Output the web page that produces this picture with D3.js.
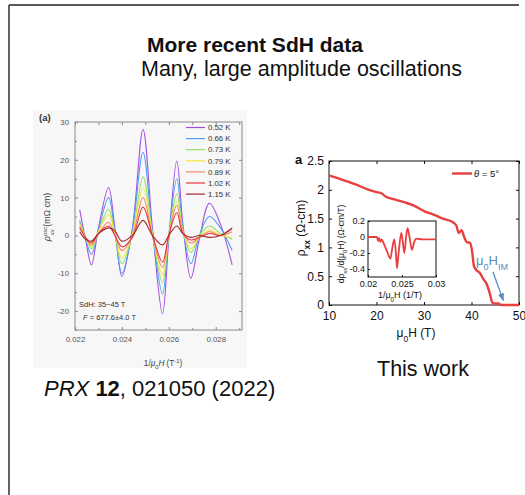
<!DOCTYPE html>
<html>
<head>
<meta charset="utf-8">
<script src="https://cdn.jsdelivr.net/npm/d3@7"></script>
<style>
  body { margin: 0; background: #fff; }
  svg { display: block; font-family: "Liberation Sans", Arial, sans-serif; }
</style>
</head>
<body>
<div id="chart"></div>
<script>
/** Left panel data: SdH oscillations vs 1/mu0H */
const oscInvField = [0.0222, 0.02245, 0.0227, 0.0230, 0.02343, 0.0237, 0.0240, 0.02445, 0.0249, 0.0253,
  0.02573, 0.0260, 0.02634, 0.0266, 0.02694, 0.0273, 0.02773, 0.0282, 0.0287];
const tempLabels = ["0.52 K", "0.66 K", "0.73 K", "0.79 K", "0.89 K", "1.02 K", "1.15 K"];
const osc052 = [6.8, -1, -7.8, 2, 12.7, 2, -10.8, 2, 28, 2, -20.7, -1, 19.7, 3, -11.3, -1, 8.5, 3, -7.8];
const osc066 = [4, -1, -5, 1.5, 10, 1, -10, 1.5, 22, 1, -15.5, 0, 15, 2, -7.5, 0, 5, 2, -4];
const osc073 = [3.5, -0.5, -3.5, 1, 7, 0.5, -7.5, 0.5, 15.5, 0.5, -12.5, 0, 11, 1.5, -4.5, 0, 2.5, 0.5, -1];
const osc079 = [3, -0.5, -3, 1, 5.5, 0.5, -6, 0.5, 12.5, 0.5, -10.5, 0, 9, 1, -3.5, -0.5, 1.5, 0, -0.5];
const osc089 = [2.5, -0.5, -2.5, 0.5, 3.5, 0, -4, 0, 10, 0, -8.5, 0, 8, 1, -2, -0.5, 1, 0, 1];
const osc102 = [2, -0.5, -2, 0.5, 2.5, 0, -3, -0.5, 7.5, 0, -7, 0, 6, 0.5, -1.2, -0.5, 0.5, 0, 1.8];
const osc115 = [1, -1, -1.5, 0.5, 2, 1.2, -1.5, 0, 4, 0, -2.5, 0, 2.5, 0.5, -0.5, 0, -0.5, 0, 2];
const oscSeries = [osc052, osc066, osc073, osc079, osc089, osc102, osc115];
const leftXTicks = [0.022, 0.024, 0.026, 0.028];
const leftYTicks = [-20, -10, 0, 10, 20, 30];

/** Right panel data: rho_xx vs mu0H */
const rhoField = [10, 12, 14, 16, 18, 20, 21, 22, 24, 26, 28, 30, 32, 34, 36, 36.8, 37.3, 37.9, 38.5, 39,
  39.7, 40.1, 40.5, 41.1, 41.8, 42.5, 43.1, 43.8, 44.4, 44.8, 45.7, 46.1, 47, 50];
const rhoValues = [2.25, 2.2, 2.14, 2.08, 2.01, 1.96, 1.94, 1.88, 1.83, 1.78, 1.72, 1.63, 1.57, 1.5, 1.44,
  1.38, 1.25, 1.3, 1.17, 1.09, 1.08, 0.95, 0.68, 0.6, 0.55, 0.45, 0.38, 0.22, 0.04, 0.025, 0.025, 0.005, 0, 0];
const rightXTicks = [10, 20, 30, 40, 50];
const rightYTicks = [0, 0.5, 1, 1.5, 2, 2.5];

/** Inset data: d rho / d(mu0H) vs 1/mu0H */
const insetInvField = [0.0200, 0.0213, 0.0215, 0.02165, 0.0218, 0.0220, 0.0223, 0.0228, 0.0233, 0.0236,
  0.02387, 0.0241, 0.02426, 0.0245, 0.0249, 0.0251, 0.02534, 0.0256, 0.02582, 0.0261, 0.02647, 0.0268,
  0.0271, 0.0280, 0.0300];
const insetDeriv = [0, 0, -0.05, -0.01, -0.06, -0.03, -0.08, -0.18, -0.27, -0.12, -0.03, -0.2, -0.39,
  -0.2, 0.05, -0.05, -0.2, 0, 0.11, 0, -0.16, -0.06, -0.02, -0.03, -0.03];
const insetXTicks = [0.02, 0.025, 0.03];
const insetYTicks = [-0.4, -0.2, 0, 0.2];

const W = 525, H = 495;

const svg = d3.select("#chart").append("svg").attr("width", W).attr("height", H);

/** helper for sub/superscripts */
const rich = (t, parts) => {
  parts.forEach((p) => {
    const ts = t.append("tspan").text(p.t);
    if (p.it) ts.style("font-style", "italic");
    if (p.b) ts.style("font-weight", "bold");
    if (p.dx) ts.attr("dx", p.dx);
    if (p.sub) ts.attr("baseline-shift", "sub").style("font-size", "70%");
    if (p.sup) ts.attr("baseline-shift", "super").style("font-size", "70%");
  });
  return t;
};

/** slide frame */
svg.append("line").attr("x1", 9).attr("x2", 519).attr("y1", 5).attr("y2", 5)
  .attr("stroke", "#222").attr("stroke-width", 1.4);
svg.append("line").attr("x1", 9).attr("x2", 9).attr("y1", 5).attr("y2", H)
  .attr("stroke", "#222").attr("stroke-width", 1.4);

/** titles */
svg.append("text").attr("x", 147).attr("y", 52).attr("font-size", 21).attr("font-weight", "bold")
  .attr("fill", "#111").text("More recent SdH data");
svg.append("text").attr("x", 141).attr("y", 76).attr("font-size", 21.5)
  .attr("fill", "#111").text("Many, large amplitude oscillations");

/* ---------------- left panel ---------------- */
svg.append("rect").attr("x", 33).attr("y", 110).attr("width", 214).attr("height", 258).attr("fill", "#f7f7f7");

const xL = d3.scaleLinear().domain([0.022, 0.02912]).range([75, 242]);
const yL = d3.scaleLinear().domain([-25, 30]).range([330, 122]);
const gL = svg.append("g");
const axisGray = "#8a8a8a";

const styleAxis = (g, color, fs, fill) => {
  g.select(".domain").remove();
  g.selectAll(".tick line").attr("stroke", color);
  g.selectAll(".tick text").attr("font-size", fs).attr("fill", fill).attr("font-family", "Liberation Sans, Arial, sans-serif");
};

gL.append("g").attr("transform", "translate(0,330)")
  .call(d3.axisBottom(xL).tickValues(leftXTicks).tickSize(-3).tickPadding(6).tickFormat(d3.format(".3f")))
  .call((g) => styleAxis(g, axisGray, 7.8, "#555"));
gL.append("g").attr("transform", "translate(0,330)")
  .call(d3.axisBottom(xL).tickValues([0.023, 0.025, 0.027, 0.029]).tickSize(-2).tickFormat(""))
  .call((g) => styleAxis(g, axisGray, 7.8, "#555"));
gL.append("g").attr("transform", "translate(0,122)")
  .call(d3.axisTop(xL).tickValues(d3.range(0.022, 0.0291, 0.001)).tickSize(-3).tickFormat(""))
  .call((g) => styleAxis(g, axisGray, 7.8, "#555"));
gL.append("g").attr("transform", "translate(75,0)")
  .call(d3.axisLeft(yL).tickValues(leftYTicks).tickSize(-3).tickPadding(6).tickFormat((d) => String(d)))
  .call((g) => styleAxis(g, axisGray, 7.8, "#555"));
gL.append("g").attr("transform", "translate(75,0)")
  .call(d3.axisLeft(yL).tickValues([-25, -15, -5, 5, 15, 25]).tickSize(-2).tickFormat(""))
  .call((g) => styleAxis(g, axisGray, 7.8, "#555"));
gL.append("g").attr("transform", "translate(242,0)")
  .call(d3.axisRight(yL).tickValues([-20, -10, 0, 10, 20]).tickSize(-3).tickFormat(""))
  .call((g) => styleAxis(g, axisGray, 7.8, "#555"));
gL.append("rect").attr("x", 75).attr("y", 122).attr("width", 167).attr("height", 208)
  .attr("fill", "none").attr("stroke", axisGray).attr("stroke-width", 1);

const tempColor = d3.scaleOrdinal().domain(tempLabels)
  .range(["#a24ee2", "#4f9ff0", "#93e064", "#f3e83c", "#f4876e", "#e6363b", "#a3272c"]);

const oscLine = d3.line().x((d) => xL(d[0])).y((d) => yL(d[1])).curve(d3.curveCatmullRom.alpha(0.5));
oscSeries.forEach((vals, i) => {
  gL.append("path")
    .datum(oscInvField.map((x, j) => [x, vals[j]]))
    .attr("d", oscLine)
    .attr("fill", "none")
    .attr("stroke", tempColor(tempLabels[i]))
    .attr("stroke-width", 1.1);
});

/** legend */
const legL = gL.append("g");
tempLabels.forEach((lab, i) => {
  const y = 127.5 + i * 11.1;
  legL.append("line").attr("x1", 186).attr("x2", 205).attr("y1", y).attr("y2", y)
    .attr("stroke", tempColor(lab)).attr("stroke-width", 1.2);
  legL.append("text").attr("x", 208).attr("y", y + 2.7).attr("font-size", 7.8).attr("fill", "#333").text(lab);
});

gL.append("text").attr("x", 39).attr("y", 121).attr("font-size", 9.5).attr("font-weight", "bold")
  .attr("fill", "#333").text("(a)");
gL.append("text").attr("x", 79).attr("y", 307).attr("font-size", 7.5).attr("fill", "#333").text("SdH: 35\u221245 T");
rich(gL.append("text").attr("x", 83).attr("y", 320).attr("font-size", 7.5).attr("fill", "#333"),
  [{ t: "F", it: true }, { t: " = 677.6\u00b14.0 T" }]);

rich(gL.append("text").attr("x", 163).attr("y", 366).attr("text-anchor", "middle")
  .attr("font-size", 8.2).attr("fill", "#444"),
  [{ t: "1/" }, { t: "\u03bc", it: true }, { t: "0", sub: true }, { t: "H", it: true }, { t: " (T" }, { t: "-1", sup: true }, { t: ")" }]);

rich(gL.append("text").attr("transform", "translate(50,217) rotate(-90)").attr("text-anchor", "middle")
  .attr("font-size", 8.8).attr("fill", "#444"),
  [{ t: "\u03c1", it: true }, { t: "osc", sup: true, it: true }, { t: "xx", sub: true, it: true, dx: -8.8 }, { t: " (m\u03a9 cm)" }]);

/* ---------------- right panel ---------------- */
const xR = d3.scaleLinear().domain([10, 50]).range([329, 519]);
const yR = d3.scaleLinear().domain([0, 2.5]).range([305, 161]);
const gR = svg.append("g");

gR.append("g").attr("transform", "translate(0,305)")
  .call(d3.axisBottom(xR).tickValues(rightXTicks).tickSize(-3).tickPadding(6).tickFormat((d) => String(d)))
  .call((g) => styleAxis(g, "#111", 12, "#111"));
gR.append("g").attr("transform", "translate(329,0)")
  .call(d3.axisLeft(yR).tickValues(rightYTicks).tickSize(-3).tickPadding(5).tickFormat((d) => String(d)))
  .call((g) => styleAxis(g, "#111", 12, "#111"));
gR.append("g").attr("transform", "translate(0,161)")
  .call(d3.axisTop(xR).tickValues(rightXTicks).tickSize(-3).tickFormat(""))
  .call((g) => styleAxis(g, "#111", 12, "#111"));
gR.append("g").attr("transform", "translate(519,0)")
  .call(d3.axisRight(yR).tickValues(rightYTicks).tickSize(-3).tickFormat(""))
  .call((g) => styleAxis(g, "#111", 12, "#111"));
gR.append("rect").attr("x", 329).attr("y", 161).attr("width", 190).attr("height", 144)
  .attr("fill", "none").attr("stroke", "#111").attr("stroke-width", 1);

const rhoLine = d3.line().x((d) => xR(d[0])).y((d) => yR(d[1])).curve(d3.curveMonotoneX);
gR.append("path")
  .datum(rhoField.map((h, i) => [h, rhoValues[i]]))
  .attr("d", rhoLine).attr("fill", "none").attr("stroke", "#e8403f").attr("stroke-width", 2.4);

/** legend */
gR.append("line").attr("x1", 452).attr("x2", 472).attr("y1", 173.5).attr("y2", 173.5)
  .attr("stroke", "#e8403f").attr("stroke-width", 2.4);
rich(gR.append("text").attr("x", 474).attr("y", 177).attr("font-size", 9.5).attr("fill", "#111"),
  [{ t: "\u03b8", it: true }, { t: " = 5\u00b0" }]);

gR.append("text").attr("x", 295).attr("y", 164).attr("font-size", 13).attr("font-weight", "bold")
  .attr("fill", "#111").text("a");

rich(gR.append("text").attr("x", 416).attr("y", 337).attr("text-anchor", "middle")
  .attr("font-size", 12).attr("fill", "#111"),
  [{ t: "\u03bc" }, { t: "0", sub: true }, { t: "H (T)" }]);
rich(gR.append("text").attr("transform", "translate(305,228) rotate(-90)").attr("text-anchor", "middle")
  .attr("font-size", 12).attr("fill", "#111"),
  [{ t: "\u03c1" }, { t: "xx", sub: true, b: true }, { t: " (\u03a9-cm)" }]);

/** mu0H_IM annotation */
rich(gR.append("text").attr("x", 476).attr("y", 265).attr("font-size", 13).attr("fill", "#5a8cc2"),
  [{ t: "\u03bc" }, { t: "0", sub: true }, { t: "H" }, { t: "IM", sub: true }]);
svg.append("defs").append("marker").attr("id", "arr").attr("viewBox", "0 0 10 10")
  .attr("refX", 9).attr("refY", 5).attr("markerWidth", 6).attr("markerHeight", 6).attr("orient", "auto")
  .append("path").attr("d", "M0,1 L10,5 L0,9 Z").attr("fill", "#5a8cc2");
gR.append("line").attr("x1", 493).attr("y1", 272).attr("x2", xR(46.7)).attr("y2", yR(0.08))
  .attr("stroke", "#5a8cc2").attr("stroke-width", 1.3).attr("marker-end", "url(#arr)");

/** inset */
const xI = d3.scaleLinear().domain([0.02, 0.03]).range([368, 436]);
const yI = d3.scaleLinear().domain([-0.5, 0.2]).range([277, 221]);
const gI = gR.append("g");
gI.append("rect").attr("x", 368).attr("y", 221).attr("width", 68).attr("height", 56).attr("fill", "#fff");
gI.append("g").attr("transform", "translate(0,277)")
  .call(d3.axisBottom(xI).tickValues(insetXTicks).tickSize(-2).tickPadding(4).tickFormat((d) => String(d)))
  .call((g) => styleAxis(g, "#111", 9, "#111"));
gI.append("g").attr("transform", "translate(368,0)")
  .call(d3.axisLeft(yI).tickValues(insetYTicks).tickSize(-2).tickPadding(3).tickFormat((d) => String(d)))
  .call((g) => styleAxis(g, "#111", 9, "#111"));
gI.append("rect").attr("x", 368).attr("y", 221).attr("width", 68).attr("height", 56)
  .attr("fill", "none").attr("stroke", "#111").attr("stroke-width", 1);
const insetLine = d3.line().x((d) => xI(d[0])).y((d) => yI(d[1])).curve(d3.curveMonotoneX);
gI.append("path")
  .datum(insetInvField.map((x, i) => [x, insetDeriv[i]]))
  .attr("d", insetLine).attr("fill", "none").attr("stroke", "#e8403f").attr("stroke-width", 1.8);
rich(gI.append("text").attr("x", 400).attr("y", 298).attr("text-anchor", "middle")
  .attr("font-size", 9).attr("fill", "#111"),
  [{ t: "1/" }, { t: "\u03bc" }, { t: "0", sub: true }, { t: "H (1/T)" }]);
rich(gI.append("text").attr("transform", "translate(344,244) rotate(-90)").attr("text-anchor", "middle")
  .attr("font-size", 8.5).attr("fill", "#111"),
  [{ t: "d\u03c1" }, { t: "xx", sub: true }, { t: "/d(\u03bc" }, { t: "0", sub: true }, { t: "H) (\u03a9-cm/T)" }]);

/** captions */
svg.append("text").attr("x", 423).attr("y", 376).attr("text-anchor", "middle").attr("font-size", 21.5)
  .attr("fill", "#111").text("This work");
rich(svg.append("text").attr("x", 44).attr("y", 396).attr("font-size", 22).attr("fill", "#111"),
  [{ t: "PRX", it: true }, { t: " " }, { t: "12", b: true }, { t: ", 021050 (2022)" }]);
</script>
</body>
</html>
